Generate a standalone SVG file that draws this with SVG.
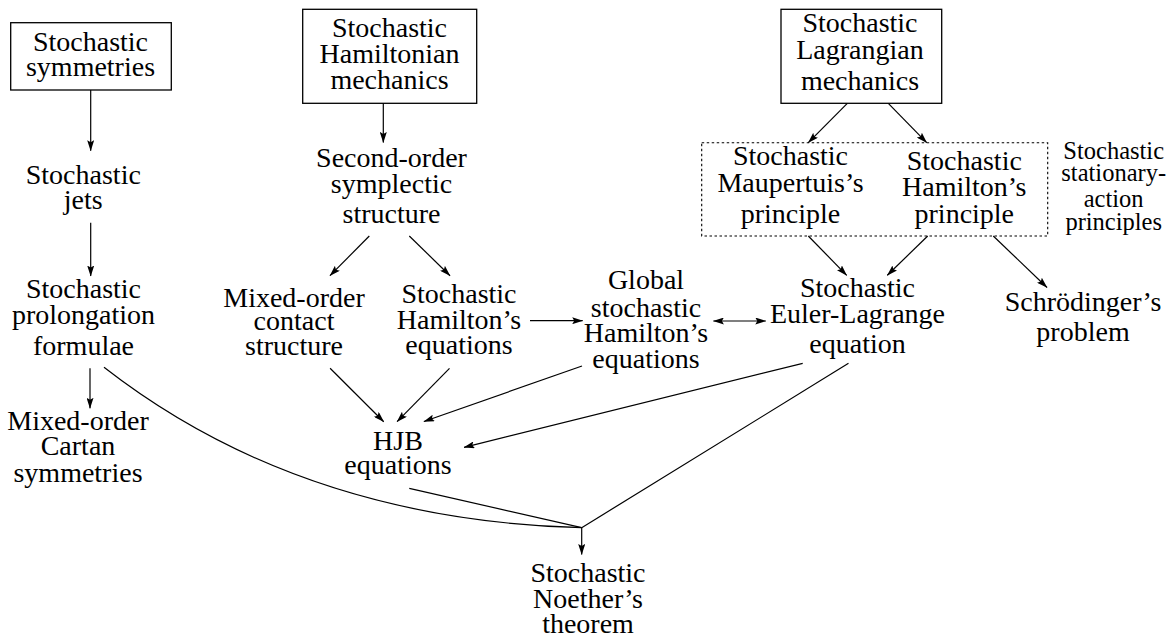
<svg xmlns="http://www.w3.org/2000/svg" width="1169" height="637" viewBox="0 0 1169 637">
<style>
text{font-family:'Liberation Serif',serif;font-size:28px;fill:#000;text-anchor:middle}
.small{font-size:24.5px}
.box{fill:none;stroke:#000;stroke-width:1.3}
.dot{fill:none;stroke:#000;stroke-width:1.1;stroke-dasharray:2.5,2.5}
.c{fill:none;stroke:#000;stroke-width:1.2}
.a{marker-end:url(#ah)}
.d{marker-start:url(#ah);marker-end:url(#ah)}
</style>
<defs>
<marker id="ah" viewBox="0 0 11 7" refX="10.5" refY="3.5" markerWidth="11" markerHeight="7" markerUnits="userSpaceOnUse" orient="auto-start-reverse">
<path d="M0,0 L11,3.5 L0,7 L2,3.5 z" fill="#000"/>
</marker>
</defs>
<rect width="1169" height="637" fill="#fff"/>

<g id="sym">
<rect class="box" x="10.7" y="22.7" width="160.6" height="67.3"/>
<text><tspan x="90.5" y="51">Stochastic</tspan><tspan x="90.5" y="76">symmetries</tspan></text>
</g>
<g id="jets">
<text><tspan x="83.3" y="184.3">Stochastic</tspan><tspan x="83.3" y="208.5">jets</tspan></text>
</g>
<g id="prolong">
<text><tspan x="83.5" y="297.5">Stochastic</tspan><tspan x="83.5" y="323.5">prolongation</tspan><tspan x="83.5" y="355">formulae</tspan></text>
</g>
<g id="cartan">
<text><tspan x="78" y="430">Mixed-order</tspan><tspan x="78" y="455">Cartan</tspan><tspan x="78" y="481.7">symmetries</tspan></text>
</g>
<g id="hammech">
<rect class="box" x="302.7" y="9.3" width="174" height="94"/>
<text><tspan x="389.5" y="36.7">Stochastic</tspan><tspan x="389.5" y="63.3">Hamiltonian</tspan><tspan x="389.5" y="89.3">mechanics</tspan></text>
</g>
<g id="symplectic">
<text><tspan x="391.5" y="166.7">Second-order</tspan><tspan x="391.5" y="192.5">symplectic</tspan><tspan x="391.5" y="222.5">structure</tspan></text>
</g>
<g id="contact">
<text><tspan x="294" y="306.5">Mixed-order</tspan><tspan x="294" y="330">contact</tspan><tspan x="294" y="355">structure</tspan></text>
</g>
<g id="hameq">
<text><tspan x="459" y="303.3">Stochastic</tspan><tspan x="459" y="329.3">Hamilton’s</tspan><tspan x="459" y="354">equations</tspan></text>
</g>
<g id="globalham">
<text><tspan x="646" y="289.3">Global</tspan><tspan x="646" y="316.7">stochastic</tspan><tspan x="646" y="342">Hamilton’s</tspan><tspan x="646" y="368">equations</tspan></text>
</g>
<g id="hjb">
<text><tspan x="398" y="450">HJB</tspan><tspan x="398" y="474">equations</tspan></text>
</g>
<g id="lagmech">
<rect class="box" x="781" y="9.3" width="160.7" height="94"/>
<text><tspan x="860" y="32.3">Stochastic</tspan><tspan x="860" y="59">Lagrangian</tspan><tspan x="860" y="90">mechanics</tspan></text>
</g>
<g id="principles">
<rect class="dot" x="701.7" y="142.7" width="346" height="93.3"/>
<text class="small"><tspan x="1113.7" y="159.3">Stochastic</tspan><tspan x="1113.7" y="180.7">stationary-</tspan><tspan x="1113.7" y="207.3">action</tspan><tspan x="1113.7" y="230">principles</tspan></text>
</g>
<g id="maupertuis">
<text><tspan x="790.5" y="165">Stochastic</tspan><tspan x="790.5" y="191.7">Maupertuis’s</tspan><tspan x="790.5" y="222.7">principle</tspan></text>
</g>
<g id="hamprin">
<text><tspan x="964.3" y="170">Stochastic</tspan><tspan x="964.3" y="196">Hamilton’s</tspan><tspan x="964.3" y="222.7">principle</tspan></text>
</g>
<g id="eulerlagrange">
<text><tspan x="857.5" y="297.3">Stochastic</tspan><tspan x="857.5" y="323.3">Euler-Lagrange</tspan><tspan x="857.5" y="353.3">equation</tspan></text>
</g>
<g id="schrodinger">
<text><tspan x="1083" y="310.7">Schrödinger’s</tspan><tspan x="1083" y="340.7">problem</tspan></text>
</g>
<g id="noether">
<text><tspan x="588" y="581.5">Stochastic</tspan><tspan x="588" y="607.5">Noether’s</tspan><tspan x="588" y="633.3">theorem</tspan></text>
</g>

<g id="connectors">
<path class="c a" d="M90.7,90 L90.7,150.7"/>
<path class="c a" d="M90.7,222.7 L90.7,276"/>
<path class="c a" d="M90,368.3 L90,408.3"/>
<path class="c a" d="M383.3,103.3 L383.3,142.5"/>
<path class="c a" d="M369.3,236 L330,275.7"/>
<path class="c a" d="M409.3,236 L450,275.7"/>
<path class="c a" d="M847.3,103.3 L808.3,142.7"/>
<path class="c a" d="M888.3,103.3 L926.7,142.7"/>
<path class="c a" d="M808.3,236 L846.7,275.3"/>
<path class="c a" d="M927.7,236 L887.3,275.3"/>
<path class="c a" d="M993.3,236 L1047,287.5"/>
<path class="c a" d="M530,320.7 L582.7,320.7"/>
<path class="c d" d="M713.4,321 L765.8,321"/>
<path class="c a" d="M330.1,368.3 L383.7,421.7"/>
<path class="c a" d="M449.5,368.3 L397.1,421.7"/>
<path class="c a" d="M582,366 L423.9,421.5"/>
<path class="c a" d="M802.7,363.3 L464,447.3"/>
<path class="c" d="M104,367.3 Q300,520 581.7,527.7"/>
<path class="c" d="M409.3,488.3 L581.7,527.7"/>
<path class="c" d="M848.5,363.3 L581.7,527.7"/>
<path class="c a" d="M581.7,527.7 L581.7,554.5"/>
</g>
</svg>
